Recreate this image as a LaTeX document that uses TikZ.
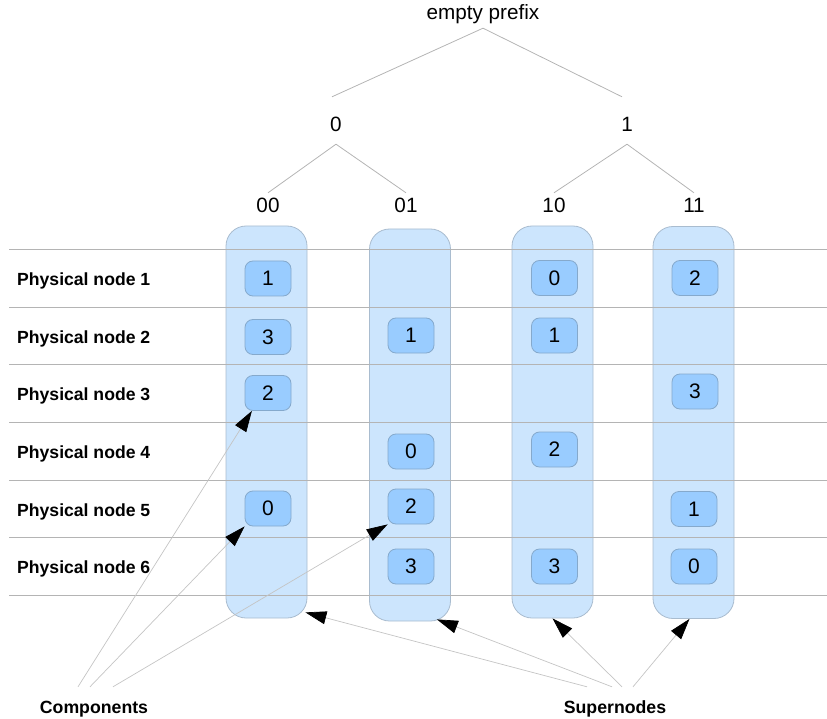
\documentclass[tikz,border=0pt]{standalone}
\usepackage{fontspec}
\setmainfont{Liberation Sans}
\usetikzlibrary{arrows.meta,calc}
\definecolor{colfill}{HTML}{CCE5FD}
\definecolor{colline}{HTML}{A9BCCF}
\definecolor{boxfill}{HTML}{99CCFF}
\definecolor{boxline}{HTML}{85A9CC}
\definecolor{gridgray}{HTML}{B4B4B4}
\definecolor{thingray}{HTML}{C4C4C4}

\begin{document}
\begin{tikzpicture}[x=1pt,y=-1pt,
  treelabel/.style={inner sep=0pt, anchor=base, font=\fontsize{20.7}{24}\selectfont},
  treeline/.style={draw=gridgray, line width=0.8pt},
  gridline/.style={draw=gridgray, line width=0.9pt},
  supernode/.style={draw=colline, fill=colfill, rounded corners=20pt,
    minimum width=81pt, minimum height=392pt, inner sep=0pt, line width=0.8pt},
  component/.style={draw=boxline, fill=boxfill, rounded corners=8pt,
    minimum width=46pt, minimum height=35pt, inner sep=0pt,
    font=\fontsize{21}{24}\selectfont, line width=0.8pt},
  rowlabel/.style={anchor=base west, inner sep=0pt, font=\bfseries\fontsize{17.6}{21}\selectfont},
  callout/.style={anchor=base, inner sep=0pt, text height=26pt, font=\bfseries\fontsize{17.7}{21}\selectfont},
  pointer/.style={draw=thingray, line width=0.7pt, -{Triangle[length=21pt,width=13pt,color=black]}}
]
\useasboundingbox (0,0) rectangle (827,719);

% prefix tree
\node[treelabel, text height=14pt, text depth=8pt] (root) at (483,20) {empty prefix};
\node[treelabel, text height=35pt, text depth=12pt] (p0) at (336,132) {0};
\node[treelabel, text height=35pt, text depth=12pt] (p1) at (627,132) {1};
\node[treelabel, text height=20pt, text depth=4pt] (p00) at (268,213) {00};
\node[treelabel, text height=20pt, text depth=4pt] (p01) at (406,213) {01};
\node[treelabel, text height=20pt, text depth=4pt] (p10) at (554,213) {10};
\node[treelabel, text height=20pt, text depth=4pt] (p11) at (694,213) {11};
\draw[treeline] (root.south) -- ($(p0.north)+(-4,0)$);
\draw[treeline] (root.south) -- ($(p1.north)+(-5,0)$);
\draw[treeline] (p0.south) -- (p00.north);
\draw[treeline] (p0.south) -- (p01.north);
\draw[treeline] (p1.south) -- (p10.north);
\draw[treeline] (p1.south) -- (p11.north);

% supernodes (one column per prefix)
\node[supernode] (s00) at (266.5,422) {};
\node[supernode] (s01) at (410,425) {};
\node[supernode] (s10) at (552.5,422) {};
\node[supernode] (s11) at (693.5,422.5) {};

% rows of physical nodes
\foreach \y in {249,307,364,422,480,537,595}
  \draw[gridline] (9,\y) -- (827,\y);

\node[rowlabel] (pn1) at (17,285.5) {Physical node 1};
\node[rowlabel] (pn2) at (17,343) {Physical node 2};
\node[rowlabel] (pn3) at (17,400.5) {Physical node 3};
\node[rowlabel] (pn4) at (17,458) {Physical node 4};
\node[rowlabel] (pn5) at (17,516) {Physical node 5};
\node[rowlabel] (pn6) at (17,573.5) {Physical node 6};

% components
\node[component] (c11) at (268,278.5) {1};
\node[component] (c12) at (268,337) {3};
\node[component] (c13) at (268,393) {2};
\node[component] (c15) at (268,508.5) {0};

\node[component] (c22) at (411,335.5) {1};
\node[component] (c24) at (411,451.5) {0};
\node[component] (c25) at (411,506.5) {2};
\node[component] (c26) at (411,566.5) {3};

\node[component] (c31) at (554.5,278) {0};
\node[component] (c32) at (554.5,335.5) {1};
\node[component] (c34) at (554.5,449.5) {2};
\node[component] (c36) at (554.5,566.5) {3};

\node[component] (c41) at (695,278) {2};
\node[component] (c43) at (695,391.5) {3};
\node[component] (c45) at (694,509) {1};
\node[component] (c46) at (694,566.5) {0};

% callouts
\node[callout] (comp) at (94,713) {Components};
\node[callout] (sup) at (615,713) {Supernodes};

\draw[pointer] ($(comp.north)+(-16,0)$) -- (c13.228);
\draw[pointer] ($(comp.north)+(-4,0)$) -- (c15.south west);
\draw[pointer] ($(comp.north)+(19,0)$) -- (c25.south west);

\draw[pointer] ($(sup.north)+(-28,0)$) -- ($(s00.south east)+(-2,-6)$);
\draw[pointer] ($(sup.north)+(-3,0)$) -- ($(s01.south east)+(-14,-2)$);
\draw[pointer] ($(sup.north)+(7,0)$) -- (s10.south);
\draw[pointer] ($(sup.north)+(18,0)$) -- ($(s11.south)+(-4,0)$);
\end{tikzpicture}
\end{document}
